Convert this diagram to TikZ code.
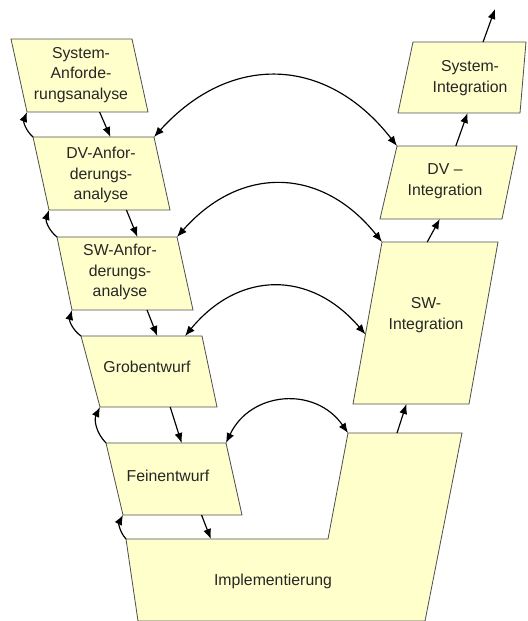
\documentclass[tikz,border=0pt]{standalone}
\usepackage{fontspec}
\setmainfont{Liberation Sans}
\usetikzlibrary{arrows.meta,calc}
\definecolor{boxfill}{HTML}{FFFFCC}
\definecolor{boxline}{HTML}{505050}
\tikzset{%
  >={Latex[width=2.4mm,length=3mm]},
  % Specifications for style of boxes and texts:
             box/.style = {draw=boxline, fill=boxfill, line width=0.7pt},
         boxtext/.style = {inner sep=0pt, align=center, text=black!85,
                           font=\fontsize{13.5}{17.5}\selectfont},
            conn/.style = {->, line width=1pt},
          twoway/.style = {<->, line width=1pt},
}

\begin{document}
\begin{tikzpicture}[x=0.03cm, y=0.03cm]
  \useasboundingbox (0,0) rectangle (527,-621);
  % left branch (outlines, corners named)
  \draw[box] (11,-39) coordinate (sysa-tl) -- (132,-39) coordinate (sysa-tr)
          -- (148,-112) coordinate (sysa-br) -- (27,-112) coordinate (sysa-bl) -- cycle;
  \draw[box] (33,-137) coordinate (dva-tl) -- (154,-137) coordinate (dva-tr)
          -- (170,-210) coordinate (dva-br) -- (49,-210) coordinate (dva-bl) -- cycle;
  \draw[box] (57,-237) coordinate (swa-tl) -- (177,-237) coordinate (swa-tr)
          -- (193,-310) coordinate (swa-br) -- (72,-310) coordinate (swa-bl) -- cycle;
  \draw[box] (81,-336) coordinate (grob-tl) -- (202,-336) coordinate (grob-tr)
          -- (217,-407) coordinate (grob-br) -- (100,-407) coordinate (grob-bl) -- cycle;
  \draw[box] (106,-443) coordinate (fein-tl) -- (226,-443) coordinate (fein-tr)
          -- (242,-515) coordinate (fein-br) -- (123,-515) coordinate (fein-bl) -- cycle;

  % right branch
  \draw[box] (413,-42) coordinate (sysi-tl) -- (526,-42) coordinate (sysi-tr)
          -- (520,-113) coordinate (sysi-br) -- (398,-113) coordinate (sysi-bl) -- cycle;
  \draw[box] (397,-146) coordinate (dvi-tl) -- (517,-146) coordinate (dvi-tr)
          -- (502,-219) coordinate (dvi-br) -- (380,-219) coordinate (dvi-bl) -- cycle;
  \draw[box] (382,-242) coordinate (swi-tl) -- (498,-242) coordinate (swi-tr)
          -- (469,-404) coordinate (swi-br) -- (353,-404) coordinate (swi-bl) -- cycle;

  % Implementierung
  \draw[box] (126,-539) coordinate (impl-a) -- (328,-539) coordinate (impl-b)
          -- (348,-433) coordinate (impl-c) -- (462,-433) coordinate (impl-d)
          -- (425,-621) coordinate (impl-e) -- (138,-621) coordinate (impl-f) -- cycle;

  % Specification of nodes (position, etc.)
  \node (sysa) [boxtext] at (81,-75)   {System-\\Anforde-\\rungsanalyse};
  \node (dva)  [boxtext] at (101,-175) {DV-Anfor-\\derungs-\\analyse};
  \node (swa)  [boxtext] at (120,-272) {SW-Anfor-\\derungs-\\analyse};
  \node (grob) [boxtext] at (147,-367) {Grobentwurf};
  \node (fein) [boxtext] at (168,-476) {Feinentwurf};
  \node (sysi) [boxtext] at (470,-78)  {System-\\Integration};
  \node (dvi)  [boxtext] at (445,-181) {DV --\\Integration};
  \node (swi)  [boxtext] at (426,-315) {SW-\\Integration};
  \node (impl) [boxtext] at (273,-581) {Implementierung};
  \coordinate (out) at (495,-9);

  % down the left side
  \draw[conn] ($(sysa-bl)!0.6!(sysa-br)$) -- ($(dva-tl)!0.64!(dva-tr)$);
  \draw[conn] ($(dva-bl)!0.64!(dva-br)$) -- ($(swa-tl)!0.67!(swa-tr)$);
  \draw[conn] ($(swa-bl)!0.62!(swa-br)$) -- ($(grob-tl)!0.63!(grob-tr)$);
  \draw[conn] ($(grob-bl)!0.6!(grob-br)$) -- ($(fein-tl)!0.63!(fein-tr)$);
  \draw[conn] ($(fein-bl)!0.66!(fein-br)$) -- ($(impl-a)!0.42!(impl-b)$);

  % back up the left side
  \draw[conn] (dva-tl) to[bend left=35] (sysa-bl);
  \draw[conn] (swa-tl) to[bend left=35] (dva-bl);
  \draw[conn] (grob-tl) to[bend left=35] (swa-bl);
  \draw[conn] (fein-tl) to[bend left=35] (grob-bl);
  \draw[conn] (impl-a) to[bend left=35] (fein-bl);

  % up the right side
  \draw[conn] ($(impl-c)!0.43!(impl-d)$) -- ($(swi-bl)!0.46!(swi-br)$);
  \draw[conn] ($(swi-tl)!0.39!(swi-tr)$) -- ($(dvi-bl)!0.49!(dvi-br)$);
  \draw[conn] ($(dvi-tl)!0.49!(dvi-tr)$) -- ($(sysi-bl)!0.57!(sysi-br)$);
  \draw[conn] ($(sysi-tl)!0.62!(sysi-tr)$) -- (out);

  % across
  \draw[twoway] (dva-tr) to[bend left=50, looseness=1.2] (dvi-tl);
  \draw[twoway] (swa-tr) to[bend left=50, looseness=1.2] (swi-tl);
  \draw[twoway] ($(grob-tl)!0.86!(grob-tr)$) to[bend left=50, looseness=1.2]
                ($(swi-tl)!0.57!(swi-bl)$);
  \draw[twoway] (fein-tr) to[bend left=60, looseness=1.2] (impl-c);
\end{tikzpicture}
\end{document}
